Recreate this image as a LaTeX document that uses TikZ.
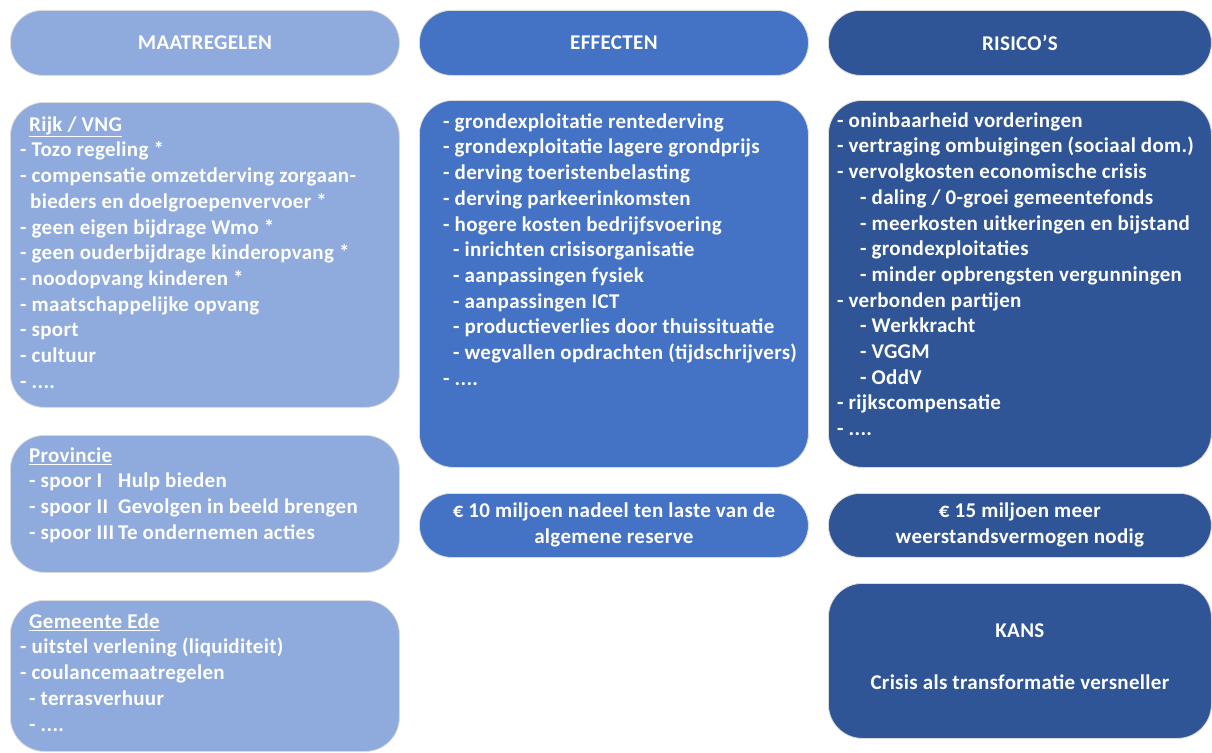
\documentclass[tikz,border=0pt]{standalone}
\usepackage{fontspec}
\setmainfont{Carlito}[LetterSpace=1.5]
\definecolor{lightb}{HTML}{8FAADC}
\definecolor{midb}{HTML}{4472C4}
\definecolor{darkb}{HTML}{2F5597}
\tikzset{
  panel/.style={rectangle, rounded corners=#1, draw=black!14, line width=0.8pt, inner sep=0pt, anchor=north west},
  body/.style={anchor=north west, inner sep=0pt, align=left, text=white, font=\bfseries\fontsize{21}{25.7}\selectfont},
  ctext/.style={inner sep=0pt, align=center, text=white, font=\bfseries\fontsize{21}{26}\selectfont},
}
\begin{document}
\begin{tikzpicture}[x=1pt,y=-1pt]
\useasboundingbox (0,0) rectangle (1212,752);
% headers
\node[panel=32pt, fill=lightb, minimum width=389pt, minimum height=65pt] (hm) at (10,10) {};
\node[panel=32pt, fill=midb, minimum width=389pt, minimum height=65pt] (he) at (419,10) {};
\node[panel=32pt, fill=darkb, minimum width=383pt, minimum height=65pt] (hr) at (828,10) {};
\node[ctext] (hmt) at (hm.center) {MAATREGELEN};
\node[ctext] (het) at (he.center) {EFFECTEN};
\node[ctext] (hrt) at (hr.center) {RISICO’S};
% left column
\node[panel=34pt, fill=lightb, minimum width=389pt, minimum height=305pt] (rijk) at (10,102) {};
\node[panel=34pt, fill=lightb, minimum width=389pt, minimum height=137pt] (prov) at (10,435) {};
\node[panel=34pt, fill=lightb, minimum width=389pt, minimum height=151pt] (ede) at (10,600) {};
\node[body] (rijkt) at (20,113.1) {\strut\hspace*{9pt}\underline{Rijk / VNG}\\
- Tozo regeling *\\
- compensatie omzetderving zorgaan-\\
\hspace*{10pt}bieders en doelgroepenvervoer *\\
- geen eigen bijdrage Wmo *\\
- geen ouderbijdrage kinderopvang *\\
- noodopvang kinderen *\\
- maatschappelijke opvang\\
- sport\\
- cultuur\\
- ....};
\node[body] (provt) at (29,444.1) {\strut\underline{Provincie}\\
\makebox[89pt][l]{- spoor I}Hulp bieden\\
\makebox[89pt][l]{- spoor II}Gevolgen in beeld brengen\\
\makebox[89pt][l]{- spoor III}Te ondernemen acties};
\node[body] (edet) at (20,610.1) {\strut\hspace*{9pt}\underline{Gemeente Ede}\\
- uitstel verlening (liquiditeit)\\
- coulancemaatregelen\\
\hspace*{9pt}- terrasverhuur\\
\hspace*{9pt}- ....};
% middle column
\node[panel=34pt, fill=midb, minimum width=389pt, minimum height=367pt] (eff) at (419,100) {};
\node[panel=32pt, fill=midb, minimum width=389pt, minimum height=64pt] (tien) at (419,493) {};
\node[body] (efft) at (443,110.1) {\strut- grondexploitatie rentederving\\
- grondexploitatie lagere grondprijs\\
- derving toeristenbelasting\\
- derving parkeerinkomsten\\
- hogere kosten bedrijfsvoering\\
\hspace*{10pt}- inrichten crisisorganisatie\\
\hspace*{10pt}- aanpassingen fysiek\\
\hspace*{10pt}- aanpassingen ICT\\
\hspace*{10pt}- productieverlies door thuissituatie\\
\hspace*{10pt}- wegvallen opdrachten (tijdschrijvers)\\
- ....};
\node[ctext] (tient) at (tien.center) {€ 10 miljoen nadeel ten laste van de\\algemene reserve};
% right column
\node[panel=34pt, fill=darkb, minimum width=383pt, minimum height=367pt] (ris) at (828,100) {};
\node[panel=32pt, fill=darkb, minimum width=383pt, minimum height=64pt] (vijftien) at (828,493) {};
\node[panel=34pt, fill=darkb, minimum width=383pt, minimum height=155pt] (kans) at (828,583) {};
\node[body] (rist) at (837,109.1) {\strut- oninbaarheid vorderingen\\
- vertraging ombuigingen (sociaal dom.)\\
- vervolgkosten economische crisis\\
\hspace*{23pt}- daling / 0-groei gemeentefonds\\
\hspace*{23pt}- meerkosten uitkeringen en bijstand\\
\hspace*{23pt}- grondexploitaties\\
\hspace*{23pt}- minder opbrengsten vergunningen\\
- verbonden partijen\\
\hspace*{23pt}- Werkkracht\\
\hspace*{23pt}- VGGM\\
\hspace*{23pt}- OddV\\
- rijkscompensatie\\
- ....};
\node[ctext] (vijftient) at (vijftien.center) {€ 15 miljoen meer\\weerstandsvermogen nodig};
\node[ctext] (kanst) at ([yshift=4pt]kans.center) {KANS\\[26pt]Crisis als transformatie versneller};
\end{tikzpicture}
\end{document}
